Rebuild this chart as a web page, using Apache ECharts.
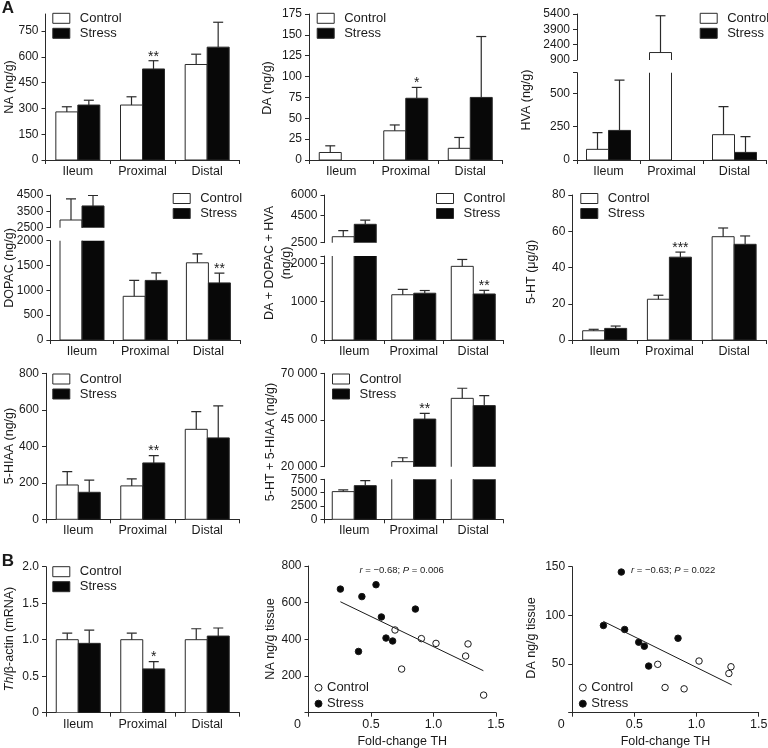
<!DOCTYPE html>
<html><head><meta charset="utf-8">
<script src="https://cdn.jsdelivr.net/npm/echarts@6/dist/echarts.min.js"></script>
<style>html,body{margin:0;padding:0;background:#fff}#c{width:768px;height:748px}</style>
</head><body><div id="c"></div>
<script>
// ---------------- DATA ----------------
const categories = ['Ileum', 'Proximal', 'Distal'];

// A: NA (ng/g)
const naControl = [280, 320, 556];
const naControlErr = [30, 48, 60];
const naStress = [320, 530, 657];
const naStressErr = [28, 48, 145];
const naStars = ['', '**', ''];
const naTicks = [0, 150, 300, 450, 600, 750];

// DA (ng/g)
const daControl = [9, 35, 14];
const daControlErr = [8, 7, 13];
const daStress = [0, 74, 75];
const daStressErr = [0, 13, 73];
const daStars = ['', '*', ''];
const daTicks = [0, 25, 50, 75, 100, 125, 150, 175];

// HVA (ng/g) - broken axis
const hvaControl = [80, 1630, 190];
const hvaControlErr = [125, 3600, 210];
const hvaStress = [222, 0, 57];
const hvaStressErr = [378, 0, 118];
const hvaStars = ['', '', ''];
const hvaUpperTicks = [900, 2400, 3900, 5400];
const hvaLowerTicks = [0, 250, 500];

// DOPAC (ng/g) - broken axis
const dopacControl = [2970, 880, 1555];
const dopacControlErr = [1290, 320, 180];
const dopacStress = [3830, 1200, 1150];
const dopacStressErr = [650, 150, 195];
const dopacStars = ['', '', '**'];
const dopacUpperTicks = [2500, 3500, 4500];
const dopacLowerTicks = [0, 500, 1000, 1500, 2000];

// DA + DOPAC + HVA (ng/g) - broken axis
const ddhControl = [2940, 1180, 1920];
const ddhControlErr = [440, 140, 180];
const ddhStress = [3850, 1220, 1200];
const ddhStressErr = [300, 70, 95];
const ddhStars = ['', '', '**'];
const ddhUpperTicks = [2500, 4500, 6000];
const ddhLowerTicks = [0, 1000, 2000];

// 5-HT (µg/g)
const htControl = [5.1, 22.5, 57];
const htControlErr = [0.8, 2.2, 4.8];
const htStress = [6.4, 45.7, 52.8];
const htStressErr = [1.3, 2.8, 4.6];
const htStars = ['', '***', ''];
const htTicks = [0, 20, 40, 60, 80];

// 5-HIAA (ng/g)
const hiaaControl = [188, 183, 493];
const hiaaControlErr = [73, 38, 97];
const hiaaStress = [148, 309, 446];
const hiaaStressErr = [67, 40, 175];
const hiaaStars = ['', '**', ''];
const hiaaTicks = [0, 200, 400, 600, 800];

// 5-HT + 5-HIAA (ng/g) - broken axis
const sumControl = [5190, 22700, 56600];
const sumControlErr = [310, 2100, 5400];
const sumStress = [6310, 45500, 52700];
const sumStressErr = [940, 3000, 5400];
const sumStars = ['', '**', ''];
const sumUpperTicks = [20000, 45000, 70000];
const sumLowerTicks = [0, 2500, 5000, 7500];

// B: Th/beta-actin (mRNA)
const thControl = [1.0, 1.0, 1.0];
const thControlErr = [0.09, 0.09, 0.15];
const thStress = [0.95, 0.6, 1.05];
const thStressErr = [0.18, 0.1, 0.11];
const thStars = ['', '*', ''];
const thTicks = [0, 0.5, 1.0, 1.5, 2.0];

// B: scatter, [fold-change TH, NA ng/g tissue]
const naScatterControl = [[0.692, 451], [0.903, 404], [1.02, 378], [1.276, 375], [1.257, 309], [0.745, 238], [1.401, 96]];
const naScatterStress = [[0.255, 674], [0.427, 633], [0.54, 698], [0.583, 522], [0.62, 407], [0.673, 391], [0.40, 334], [0.855, 565]];
const naFit = [[0.255, 605], [1.399, 229]];
// [fold-change TH, DA ng/g tissue]
const daScatterControl = [[0.688, 49.7], [0.747, 25.9], [0.9, 24.5], [1.02, 53.1], [1.26, 40.3], [1.277, 47.2]];
const daScatterStress = [[0.395, 144.5], [0.251, 89.6], [0.422, 85.5], [0.535, 72.4], [0.58, 68.3], [0.615, 47.9], [0.851, 76.5]];
const daFit = [[0.251, 93.8], [1.283, 28.6]];
const foldTicks = [0, 0.5, 1.0, 1.5];
const naScatterTicks = [0, 200, 400, 600, 800];
const daScatterTicks = [0, 50, 100, 150];

// ---------------- LAYOUT / STYLE ----------------
const FONT = '"Liberation Sans", Arial, Helvetica, sans-serif';
const INK = '#1a1a1a';
const LINE = '#2a2a2a';
const BLACK = '#080808';
const BAR_W = 22;
const grids = [], xAxes = [], yAxes = [], series = [], legends = [], graphics = [];

// outline (clipped at the grid, so broken axes show open bar ends) + error bar + significance stars
function outlineErrSeries(gi, name, vals, errs, off, stars) {
  return {
    type: 'custom', name: name, xAxisIndex: gi, yAxisIndex: gi, clip: true, silent: true, z: 3,
    data: vals.map((v, i) => [i, v, errs[i]]),
    encode: { x: 0, y: 1 },
    renderItem: (params, api) => {
      const i = api.value(0), v = api.value(1), e = api.value(2);
      if (!v && !e) return null;
      const base = api.coord([i, 0]);
      const p = api.coord([i, v]);
      const top = api.coord([i, v + e]);
      const x = p[0] + off;
      const children = [
        { type: 'rect', shape: { x: x - BAR_W / 2, y: p[1], width: BAR_W, height: base[1] - p[1] }, style: { fill: 'none', stroke: LINE, lineWidth: 1 } }
      ];
      if (e) {
        children.push({ type: 'line', shape: { x1: x, y1: p[1], x2: x, y2: top[1] }, style: { stroke: LINE, lineWidth: 1.2 } });
        children.push({ type: 'line', shape: { x1: x - 5, y1: top[1], x2: x + 5, y2: top[1] }, style: { stroke: LINE, lineWidth: 1.2 } });
      }
      const s = stars && stars[params.dataIndex];
      if (s) children.push({ type: 'text', x: x, y: top[1] - 4, style: { text: s, fill: INK, font: '14px ' + FONT, align: 'center', verticalAlign: 'middle', textAlign: 'center', textVerticalAlign: 'middle' } });
      return { type: 'group', children };
    }
  };
}

function addBarGrid(box, y, showX, c, ce, s, se, stars) {
  const gi = grids.length;
  grids.push({ left: box[0], top: box[1], width: box[2] - box[0], height: box[3] - box[1], containLabel: false, outerBoundsMode: 'none' });
  xAxes.push({
    type: 'category', gridIndex: gi, data: categories, show: showX, boundaryGap: true,
    axisLine: { show: true, onZero: false, lineStyle: { color: LINE, width: 1 } },
    axisTick: { show: true, length: 4, lineStyle: { color: LINE, width: 1 } },
    axisLabel: { interval: 0, hideOverlap: false, color: INK, fontSize: 12.5, fontFamily: FONT, margin: 5 }
  });
  yAxes.push({
    type: 'value', gridIndex: gi, min: y.min, max: y.max,
    axisLine: { show: true, lineStyle: { color: LINE, width: 1 } },
    axisTick: { show: true, length: 4, customValues: y.ticks, lineStyle: { color: LINE, width: 1 } },
    axisLabel: { show: true, customValues: y.labels, formatter: y.fmt || (v => String(v)), color: INK, fontSize: 12, fontFamily: FONT, margin: 7 },
    splitLine: { show: false }
  });
  series.push({ type: 'bar', name: 'Control', xAxisIndex: gi, yAxisIndex: gi, data: c, barWidth: BAR_W, barGap: '0%', clip: true, silent: true,
    itemStyle: { color: '#ffffff', borderWidth: 0 } });
  series.push({ type: 'bar', name: 'Stress', xAxisIndex: gi, yAxisIndex: gi, data: s, barWidth: BAR_W, barGap: '0%', clip: true, silent: true,
    itemStyle: { color: BLACK, borderWidth: 0 } });
  series.push(outlineErrSeries(gi, 'Control outline', c, ce, -BAR_W / 2, null));
  series.push(outlineErrSeries(gi, 'Stress outline', s, se, BAR_W / 2, stars));
}

function barLegend(left, top) {
  legends.push({
    orient: 'vertical', left: left, top: top, padding: 0, itemGap: 0, itemWidth: 17, itemHeight: 10, icon: 'rect', selectedMode: false,
    data: [
      { name: 'Control', itemStyle: { color: '#ffffff', borderColor: LINE, borderWidth: 1 } },
      { name: 'Stress', itemStyle: { color: BLACK, borderColor: LINE, borderWidth: 1 } }
    ],
    textStyle: { fontSize: 13, fontFamily: FONT, color: INK, lineHeight: 15, padding: [0, 0, 0, 5] }
  });
}

function dotLegend(left, top) {
  legends.push({
    orient: 'vertical', left: left, top: top, padding: 0, itemGap: 1, itemWidth: 7, itemHeight: 7, icon: 'circle', selectedMode: false,
    data: [
      { name: 'Control', itemStyle: { color: '#ffffff', borderColor: INK, borderWidth: 1 } },
      { name: 'Stress', itemStyle: { color: BLACK, borderColor: INK, borderWidth: 1 } }
    ],
    textStyle: { fontSize: 13, fontFamily: FONT, color: INK, lineHeight: 15 }
  });
}

const spaced = v => String(v).replace(/\B(?=(\d{3})+(?!\d))/g, ' ');
const oneDec = v => (v === 0 ? '0' : v.toFixed(1));

// Row 1
addBarGrid([45.5, 14, 239.5, 160], { min: 0, max: 850, ticks: naTicks, labels: naTicks }, true, naControl, naControlErr, naStress, naStressErr, naStars);
barLegend(52.3, 10.8);
addBarGrid([309, 14, 502.5, 160], { min: 0, max: 175, ticks: daTicks, labels: daTicks }, true, daControl, daControlErr, daStress, daStressErr, daStars);
barLegend(316.7, 10.8);
addBarGrid([577, 14, 766, 60], { min: 900, max: 5400, ticks: hvaUpperTicks, labels: hvaUpperTicks }, false, hvaControl, hvaControlErr, hvaStress, hvaStressErr, hvaStars);
addBarGrid([577, 72.7, 766, 160], { min: 0, max: 655, ticks: hvaLowerTicks.concat([655]), labels: hvaLowerTicks }, true, hvaControl, hvaControlErr, hvaStress, hvaStressErr, hvaStars);
barLegend(699.7, 10.8);

// Row 2
addBarGrid([50.4, 195, 240, 227.7], { min: 2500, max: 4500, ticks: dopacUpperTicks, labels: dopacUpperTicks }, false, dopacControl, dopacControlErr, dopacStress, dopacStressErr, dopacStars);
addBarGrid([50.4, 240.7, 240, 340], { min: 0, max: 2000, ticks: dopacLowerTicks, labels: dopacLowerTicks }, true, dopacControl, dopacControlErr, dopacStress, dopacStressErr, dopacStars);
barLegend(172.7, 191);
addBarGrid([324.5, 195, 503, 242.7], { min: 2500, max: 6000, ticks: ddhUpperTicks, labels: ddhUpperTicks }, false, ddhControl, ddhControlErr, ddhStress, ddhStressErr, ddhStars);
addBarGrid([324.5, 256, 503, 340], { min: 0, max: 2190, ticks: ddhLowerTicks.concat([2190]), labels: ddhLowerTicks }, true, ddhControl, ddhControlErr, ddhStress, ddhStressErr, ddhStars);
barLegend(436, 191);
addBarGrid([572.3, 195, 766.5, 340], { min: 0, max: 80, ticks: htTicks, labels: htTicks }, true, htControl, htControlErr, htStress, htStressErr, htStars);
barLegend(580.3, 191);

// Row 3
addBarGrid([46, 373.3, 239.5, 519.3], { min: 0, max: 800, ticks: hiaaTicks, labels: hiaaTicks }, true, hiaaControl, hiaaControlErr, hiaaStress, hiaaStressErr, hiaaStars);
barLegend(52.3, 371.5);
addBarGrid([324.5, 373.3, 503, 466.7], { min: 20000, max: 70000, ticks: sumUpperTicks, labels: sumUpperTicks, fmt: spaced }, false, sumControl, sumControlErr, sumStress, sumStressErr, sumStars);
addBarGrid([324.5, 479.3, 503, 519.3], { min: 0, max: 7500, ticks: sumLowerTicks, labels: sumLowerTicks }, true, sumControl, sumControlErr, sumStress, sumStressErr, sumStars);
barLegend(332, 371.5);

// Row 4
addBarGrid([46, 566.7, 239.5, 712.7], { min: 0, max: 2, ticks: thTicks, labels: thTicks, fmt: oneDec }, true, thControl, thControlErr, thStress, thStressErr, thStars);
barLegend(52.3, 564.2);

function addScatterGrid(box, yMax, yTicks, ctrl, str, fit) {
  const gi = grids.length;
  grids.push({ left: box[0], top: box[1], width: box[2] - box[0], height: box[3] - box[1], containLabel: false, outerBoundsMode: 'none' });
  xAxes.push({
    type: 'value', gridIndex: gi, min: 0, max: 1.5,
    axisLine: { show: true, onZero: false, lineStyle: { color: LINE, width: 1 } },
    axisTick: { show: true, length: 4, customValues: foldTicks, lineStyle: { color: LINE, width: 1 } },
    axisLabel: { show: true, customValues: foldTicks, formatter: v => (v === 0 ? '{z|0}' : v.toFixed(1)), color: INK, fontSize: 12.5, fontFamily: FONT, margin: 5,
      rich: { z: { padding: [0, 22, 0, 0], fontSize: 12.5, fontFamily: FONT, color: INK } } },
    splitLine: { show: false },
    name: 'Fold-change TH', nameLocation: 'middle', nameGap: 22,
    nameTextStyle: { fontSize: 12.5, fontFamily: FONT, color: INK }
  });
  yAxes.push({
    type: 'value', gridIndex: gi, min: 0, max: yMax,
    axisLine: { show: true, onZero: false, lineStyle: { color: LINE, width: 1 } },
    axisTick: { show: true, length: 4, customValues: yTicks, lineStyle: { color: LINE, width: 1 } },
    axisLabel: { show: true, customValues: yTicks, formatter: v => (v === 0 ? '' : String(v)), color: INK, fontSize: 12, fontFamily: FONT, margin: 7 },
    splitLine: { show: false }
  });
  series.push({ type: 'line', name: 'fit', xAxisIndex: gi, yAxisIndex: gi, data: fit, symbol: 'none', silent: true,
    lineStyle: { color: INK, width: 1 } });
  series.push({ type: 'scatter', name: 'Control', xAxisIndex: gi, yAxisIndex: gi, data: ctrl, symbol: 'circle', symbolSize: 6.5, silent: true,
    itemStyle: { color: '#ffffff', borderColor: INK, borderWidth: 1, opacity: 1 } });
  series.push({ type: 'scatter', name: 'Stress', xAxisIndex: gi, yAxisIndex: gi, data: str, symbol: 'circle', symbolSize: 6.5, silent: true,
    itemStyle: { color: BLACK, borderColor: INK, borderWidth: 1, opacity: 1 } });
}

addScatterGrid([308.5, 566, 496, 712.7], 800, naScatterTicks, naScatterControl, naScatterStress, naFit);
dotLegend(314.5, 680.2);
addScatterGrid([572.2, 566.7, 758.7, 712.7], 150, daScatterTicks, daScatterControl, daScatterStress, daFit);
dotLegend(578.8, 680.2);

// text elements: panel letters, y-axis titles, correlation notes
const txt = (x, y, text, extra) => Object.assign({
  type: 'text', x: x, y: y, silent: true,
  style: Object.assign({ text: text, fill: INK, fontSize: 12.5, fontFamily: FONT, align: 'center', verticalAlign: 'middle', textAlign: 'center', textVerticalAlign: 'middle' }, extra || {})
});
const ROT = Math.PI / 2;
graphics.push(txt(8, 8, 'A', { fontSize: 17, fontWeight: 'bold' }));
graphics.push(txt(8, 561, 'B', { fontSize: 17, fontWeight: 'bold' }));
const yTitleLayout = [
  ['NA (ng/g)', 10, 87],
  ['DA (ng/g)', 268, 88],
  ['HVA (ng/g)', 527, 100],
  ['DOPAC (ng/g)', 10, 268],
  ['DA + DOPAC + HVA', 270, 263],
  ['(ng/g)', 287, 263],
  ['5-HT (μg/g)', 532, 272],
  ['5-HIAA (ng/g)', 10, 446],
  ['5-HT + 5-HIAA (ng/g)', 271, 442],
  ['NA ng/g tissue', 271, 639],
  ['DA ng/g tissue', 532, 638]
];
yTitleLayout.forEach(t => { const g = txt(t[1], t[2], t[0]); g.rotation = ROT; graphics.push(g); });
const thTitle = txt(10, 639, '{i|Th}/β-actin (mRNA)', { rich: { i: { fontStyle: 'italic', fontSize: 12.5, fontFamily: FONT, fill: INK } } });
thTitle.rotation = ROT;
graphics.push(thTitle);
const richI = { i: { fontStyle: 'italic', fontSize: 9.5, fontFamily: FONT, fill: INK } };
graphics.push(txt(359.5, 570.5, '{i|r} = −0.68; {i|P} = 0.006', { fontSize: 9.5, align: 'left', textAlign: 'left', rich: richI }));
graphics.push(txt(631, 570.5, '{i|r} = −0.63; {i|P} = 0.022', { fontSize: 9.5, align: 'left', textAlign: 'left', rich: richI }));

const chart = echarts.init(document.getElementById('c'), null, { renderer: 'canvas' });
chart.setOption({
  animation: false,
  backgroundColor: '#ffffff',
  textStyle: { fontFamily: FONT },
  grid: grids, xAxis: xAxes, yAxis: yAxes, legend: legends, series: series, graphic: graphics
});
</script></body></html>
